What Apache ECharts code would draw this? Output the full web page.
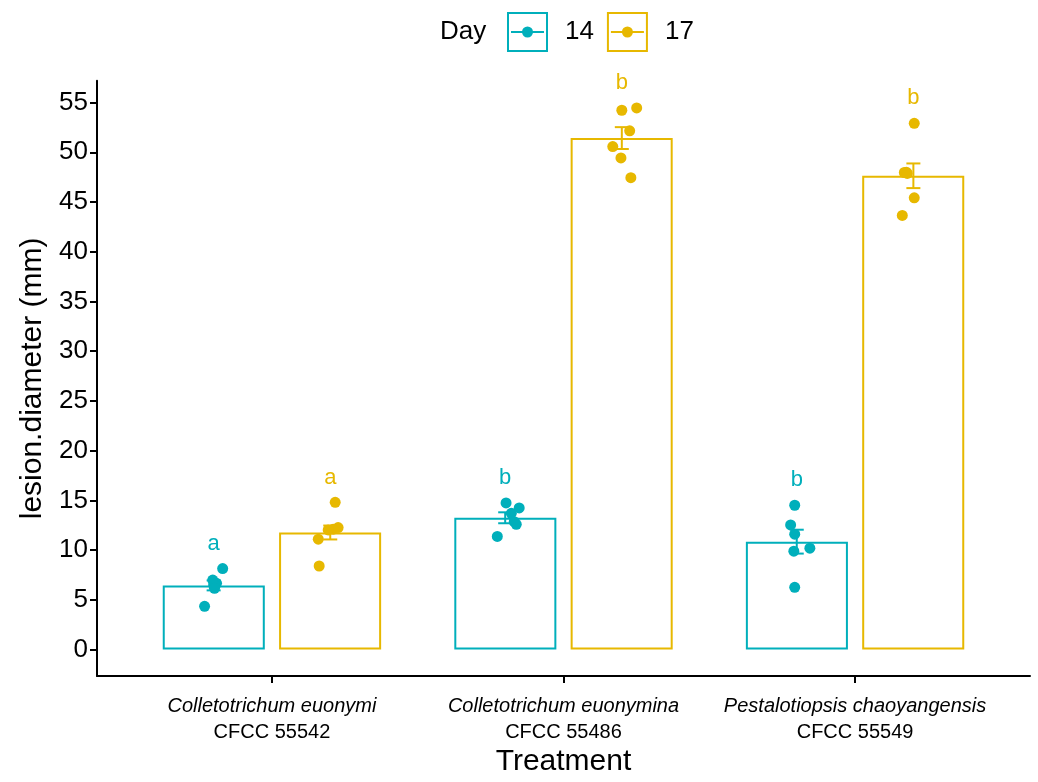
<!DOCTYPE html>
<html><head><meta charset="utf-8">
<script src="https://cdn.jsdelivr.net/npm/echarts@6/dist/echarts.min.js"></script>
<style>html,body{margin:0;padding:0;background:#fff}#c{width:1038px;height:782px}</style>
</head><body><div id="c"></div>
<script>
// ---- data ----
const species = ['Colletotrichum euonymi', 'Colletotrichum euonymina', 'Pestalotiopsis chaoyangensis'];
const strains = ['CFCC 55542', 'CFCC 55486', 'CFCC 55549'];
const days = ['14', '17'];
const mean14 = [6.45, 13.25, 10.85];
const mean17 = [11.77, 51.43, 47.64];
const se14 = [0.5, 0.55, 1.2];
const se17 = [0.7, 1.1, 1.24];
const points14 = [
  [8.14, 6.99, 6.66, 6.5, 6.16, 4.35],
  [14.74, 14.24, 13.7, 12.86, 12.59, 11.37],
  [14.51, 12.53, 11.6, 10.19, 9.89, 6.26]
];
const points17 = [
  [14.8, 12.26, 12.1, 12.03, 11.1, 8.4],
  [54.23, 54.46, 52.16, 50.58, 49.43, 47.45],
  [52.92, 48.0, 47.97, 47.87, 45.42, 43.65]
];
// horizontal jitter of each point (fraction of a category)
const jitter14 = [
  [0.031, -0.003, 0.010, 0, 0.003, -0.031],
  [0.003, 0.048, 0.021, 0.031, 0.038, -0.027],
  [-0.007, -0.021, -0.007, 0.045, -0.010, -0.007]
];
const jitter17 = [
  [0.017, 0.027, 0.010, -0.007, -0.041, -0.038],
  [0, 0.051, 0.027, -0.031, -0.003, 0.031],
  [0.003, -0.024, -0.031, -0.021, 0.003, -0.038]
];
const letters14 = ['a', 'b', 'b'];
const letters17 = ['a', 'b', 'b'];
const yTicks = [0, 5, 10, 15, 20, 25, 30, 35, 40, 45, 50, 55];
const xTicks = [1, 2, 3];

// ---- styling ----
const FONT = 'Liberation Sans, Arial, Helvetica, sans-serif';
const C14 = '#00AFBB', C17 = '#E7B800';
const DODGE = 0.2;

function barData(means) { return means.map((v, i) => [i + 1, v]); }
function errData(means, ses, off) { return means.map((v, i) => [i + 1 + off, v, ses[i]]); }
function ptData(pts, jit, off) {
  const out = [];
  pts.forEach((arr, i) => arr.forEach((v, j) => out.push([i + 1 + off + jit[i][j], v])));
  return out;
}
function letterData(pts, letters, off) {
  return pts.map((arr, i) => [i + 1 + off, Math.max.apply(null, arr) + 2.5, letters[i]]);
}

function errRender(color) {
  return function (params, api) {
    const x = api.value(0), m = api.value(1), s = api.value(2);
    const t = api.coord([x, m + s]);
    const b = api.coord([x, m - s]);
    const st = { stroke: color, lineWidth: 2 };
    return {
      type: 'group',
      children: [
        { type: 'line', shape: { x1: t[0], y1: t[1], x2: b[0], y2: b[1] }, style: st },
        { type: 'line', shape: { x1: t[0] - 7, y1: t[1], x2: t[0] + 7, y2: t[1] }, style: st },
        { type: 'line', shape: { x1: b[0] - 7, y1: b[1], x2: b[0] + 7, y2: b[1] }, style: st }
      ]
    };
  };
}
function letterRender(color) {
  return function (params, api) {
    const p = api.coord([api.value(0), api.value(1)]);
    return {
      type: 'text',
      style: {
        text: api.value(2), x: p[0], y: p[1], fill: color,
        font: '22px ' + FONT, align: 'center', verticalAlign: 'middle'
      }
    };
  };
}

const ICON = 'path://M0 0H41V40H0Z M2 2V38H39V2Z M4 19H37V21H4Z M15 20A5.5 5.5 0 1 1 26 20A5.5 5.5 0 1 1 15 20Z';

const chart = echarts.init(document.getElementById('c'), null, { renderer: 'canvas', width: 1038, height: 782 });
chart.setOption({
  animation: false,
  backgroundColor: '#fff',
  textStyle: { fontFamily: FONT },
  title: {
    text: 'Day', left: 440, top: 17, padding: 0,
    textStyle: { fontFamily: FONT, fontSize: 26, fontWeight: 'normal', color: '#000', lineHeight: 30 }
  },
  legend: {
    left: 507, top: 12, padding: 0,
    itemWidth: 41, itemHeight: 40, itemGap: 13,
    selectedMode: false,
    textStyle: { fontFamily: FONT, fontSize: 26, color: '#000', padding: [0, 0, 0, 12] },
    data: [
      { name: days[0], icon: ICON, itemStyle: { color: C14, borderWidth: 0 } },
      { name: days[1], icon: ICON, itemStyle: { color: C17, borderWidth: 0 } }
    ]
  },
  grid: { left: 97, top: 80.7, width: 933, height: 605.3, containLabel: false },
  xAxis: {
    type: 'value', min: 0.4, max: 3.6,
    splitLine: { show: false },
    axisLine: { show: true, onZero: false, lineStyle: { color: '#000', width: 2 } },
    axisTick: { show: true, customValues: xTicks, length: 7, lineStyle: { color: '#000', width: 2 } },
    axisLabel: {
      customValues: xTicks, margin: 17, color: '#000',
      formatter: function (v) {
        const i = Math.round(v) - 1;
        return '{i|' + species[i] + '}\n{n|' + strains[i] + '}';
      },
      rich: {
        i: { fontFamily: FONT, fontStyle: 'italic', fontSize: 20, lineHeight: 26, color: '#000' },
        n: { fontFamily: FONT, fontSize: 20, lineHeight: 26, color: '#000' }
      }
    },
    name: 'Treatment', nameLocation: 'middle', nameGap: 67,
    nameTextStyle: { fontFamily: FONT, fontSize: 30, color: '#000' }
  },
  yAxis: {
    type: 'value', min: -2.67, max: 57.2,
    splitLine: { show: false },
    axisLine: { show: true, onZero: false, lineStyle: { color: '#000', width: 2 } },
    axisTick: { show: true, customValues: yTicks, length: 7, lineStyle: { color: '#000', width: 2 } },
    axisLabel: { customValues: yTicks, margin: 9, fontSize: 26, color: '#000', fontFamily: FONT },
    name: 'lesion.diameter (mm)', nameLocation: 'middle', nameGap: 48, nameRotate: 90,
    nameTextStyle: { fontFamily: FONT, fontSize: 30, color: '#000' }
  },
  series: [
    {
      name: days[0], type: 'scatter', data: ptData(points14, jitter14, -DODGE),
      symbolSize: 11, itemStyle: { color: C14, opacity: 1 }, z: 5, silent: true
    },
    {
      name: days[1], type: 'scatter', data: ptData(points17, jitter17, DODGE),
      symbolSize: 11, itemStyle: { color: C17, opacity: 1 }, z: 5, silent: true
    },
    {
      name: days[0], type: 'bar', data: barData(mean14), barWidth: '35%', barGap: '14%',
      itemStyle: { color: '#fff', borderColor: C14, borderWidth: 2 }, z: 2, silent: true
    },
    {
      name: days[1], type: 'bar', data: barData(mean17), barWidth: '35%', barGap: '14%',
      itemStyle: { color: '#fff', borderColor: C17, borderWidth: 2 }, z: 2, silent: true
    },
    {
      name: days[0], type: 'custom', data: errData(mean14, se14, -DODGE),
      encode: { x: 0, y: 1 }, renderItem: errRender(C14), z: 4, silent: true
    },
    {
      name: days[1], type: 'custom', data: errData(mean17, se17, DODGE),
      encode: { x: 0, y: 1 }, renderItem: errRender(C17), z: 4, silent: true
    },
    {
      name: days[0], type: 'custom', data: letterData(points14, letters14, -DODGE),
      encode: { x: 0, y: 1 }, renderItem: letterRender(C14), z: 6, silent: true, clip: false
    },
    {
      name: days[1], type: 'custom', data: letterData(points17, letters17, DODGE),
      encode: { x: 0, y: 1 }, renderItem: letterRender(C17), z: 6, silent: true, clip: false
    }
  ]
});
</script>
</body></html>
